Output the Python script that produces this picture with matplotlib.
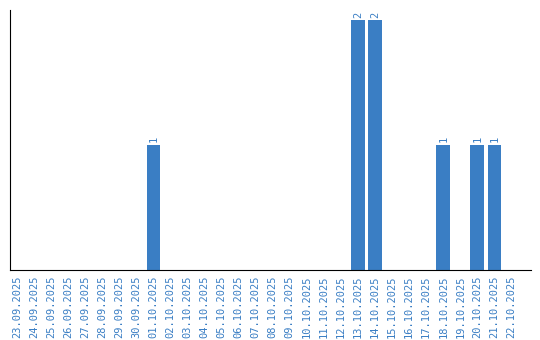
import numpy as np
import matplotlib
matplotlib.use('Agg')
import matplotlib.pyplot as plt

dates = ['23.09.2025', '24.09.2025', '25.09.2025', '26.09.2025', '27.09.2025',
         '28.09.2025', '29.09.2025', '30.09.2025', '01.10.2025', '02.10.2025',
         '03.10.2025', '04.10.2025', '05.10.2025', '06.10.2025', '07.10.2025',
         '08.10.2025', '09.10.2025', '10.10.2025', '11.10.2025', '12.10.2025',
         '13.10.2025', '14.10.2025', '15.10.2025', '16.10.2025', '17.10.2025',
         '18.10.2025', '19.10.2025', '20.10.2025', '21.10.2025', '22.10.2025']
counts = [0, 0, 0, 0, 0, 0, 0, 0, 1, 0,
          0, 0, 0, 0, 0, 0, 0, 0, 0, 0,
          2, 2, 0, 0, 0, 1, 0, 1, 1, 0]

blue = '#3a7ec4'

fig = plt.figure(figsize=(5.4, 3.4), dpi=100)
ax = fig.add_axes([10/540, 1-270/340, 521/540, 260/340])

x = np.arange(len(dates))
ax.bar(x, counts, width=0.8, color=blue)
for i, c in enumerate(counts):
    if c > 0:
        ax.text(i, c + 0.02, str(c), rotation=90, ha='center', va='bottom',
                color=blue, fontsize=7.5, family='DejaVu Sans Mono')

ax.set_xlim(-0.42, 30.15)
ax.set_ylim(0, 2.08)
ax.set_xticks(x)
ax.set_xticklabels(dates, rotation=90, color=blue, fontsize=7.5, family='DejaVu Sans Mono')
ax.tick_params(axis='x', length=0, pad=4)
ax.set_yticks([])
ax.spines['top'].set_visible(False)
ax.spines['right'].set_visible(False)

plt.savefig('out.png', dpi=100)
